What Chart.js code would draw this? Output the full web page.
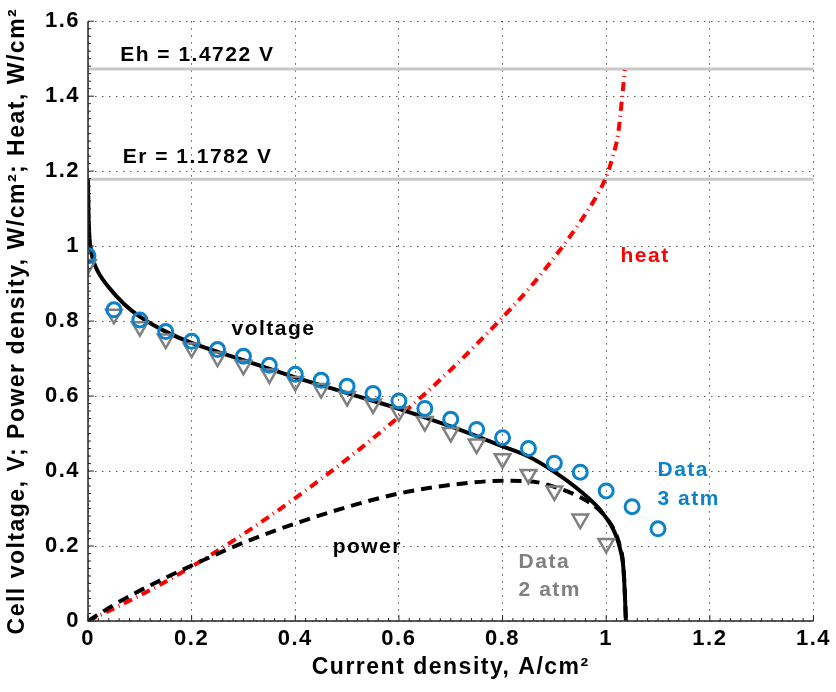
<!DOCTYPE html>
<html>
<head>
<meta charset="utf-8">
<script src="https://cdn.jsdelivr.net/npm/chart.js@4.4.1/dist/chart.umd.min.js"></script>
<style>
  html, body { margin: 0; padding: 0; background: #fff; }
  #wrap { width: 836px; height: 692px; }
</style>
</head>
<body>
<div id="wrap"><canvas id="chartFC"></canvas></div>
<script>
// ---- datos ----
const xTickLabels = ['0', '0.2', '0.4', '0.6', '0.8', '1', '1.2', '1.4'];
const yTickLabels = ['0', '0.2', '0.4', '0.6', '0.8', '1', '1.2', '1.4', '1.6'];

const Eh = 1.4722;
const Er = 1.1782;

// datos medidos, 3 atm (circulos)
const data3x = [0, 0.05, 0.1, 0.15, 0.2, 0.25, 0.3, 0.35, 0.4, 0.45, 0.5, 0.55, 0.6, 0.65, 0.7, 0.75, 0.8, 0.85, 0.9, 0.95, 1.0, 1.05, 1.1];
const data3y = [0.974, 0.830, 0.803, 0.772, 0.746, 0.724, 0.706, 0.682, 0.658, 0.642, 0.626, 0.607, 0.587, 0.567, 0.538, 0.511, 0.489, 0.460, 0.421, 0.397, 0.347, 0.305, 0.246];

// datos medidos, 2 atm (triangulos)
const data2x = [0, 0.05, 0.1, 0.15, 0.2, 0.25, 0.3, 0.35, 0.4, 0.45, 0.5, 0.55, 0.6, 0.65, 0.7, 0.75, 0.8, 0.85, 0.9, 0.95, 1.0];
const data2y = [0.951, 0.818, 0.785, 0.752, 0.728, 0.704, 0.682, 0.659, 0.639, 0.620, 0.599, 0.579, 0.558, 0.532, 0.503, 0.472, 0.433, 0.391, 0.347, 0.272, 0.207];

// modelo: voltaje
const voltX = [0, 0.001, 0.003, 0.006, 0.01, 0.02, 0.04, 0.07, 0.1, 0.15, 0.2, 0.3, 0.4, 0.5, 0.6, 0.7, 0.8, 0.85, 0.9, 0.95, 0.985, 1.0, 1.01, 1.02, 1.026, 1.033, 1.036, 1.038];
const voltY = [1.178, 1.09, 1.02, 0.988, 0.962, 0.93, 0.89, 0.845, 0.812, 0.772, 0.742, 0.696, 0.65, 0.608, 0.566, 0.519, 0.466, 0.439, 0.398, 0.347, 0.302, 0.275, 0.254, 0.224, 0.197, 0.144, 0.073, 0];

// modelo: potencia
const powX = [0, 0.05, 0.1, 0.2, 0.3, 0.4, 0.5, 0.6, 0.7, 0.8, 0.85, 0.9, 0.95, 0.985, 1.0, 1.01, 1.02, 1.026, 1.033, 1.036, 1.038];
const powY = [0, 0.043, 0.081, 0.148, 0.209, 0.26, 0.304, 0.34, 0.363, 0.374, 0.373, 0.358, 0.33, 0.298, 0.275, 0.256, 0.228, 0.202, 0.149, 0.076, 0];

// modelo: calor
const heatX = [0, 0.1, 0.2, 0.3, 0.4, 0.5, 0.6, 0.7, 0.8, 0.85, 0.9, 0.95, 0.98, 1.0, 1.013, 1.023, 1.031, 1.036];
const heatY = [0, 0.068, 0.145, 0.232, 0.328, 0.432, 0.545, 0.67, 0.81, 0.885, 0.97, 1.065, 1.13, 1.185, 1.24, 1.3, 1.4, 1.47];

const pts = (xs, ys) => xs.map((x, i) => ({ x: x, y: ys[i] }));

// ---- estilos ----
const FONT = '"Liberation Sans", Arial, Helvetica, sans-serif';
const BLUE = '#0b82c9';
const GRAY = '#808080';

// textos dentro del grafico (posicion en unidades de datos)
const notes = [
  { text: 'Eh = 1.4722 V', x: 0.062, y: 1.51, color: '#000', align: 'left' },
  { text: 'Er = 1.1782 V', x: 0.067, y: 1.237, color: '#000', align: 'left' },
  { text: 'voltage', x: 0.358, y: 0.779, color: '#000', align: 'center' },
  { text: 'heat', x: 1.075, y: 0.974, color: '#ff0000', align: 'center' },
  { text: 'power', x: 0.539, y: 0.197, color: '#000', align: 'center' },
  { text: 'Data', x: 0.831, y: 0.157, color: GRAY, align: 'left' },
  { text: '2 atm', x: 0.831, y: 0.082, color: GRAY, align: 'left' },
  { text: 'Data', x: 1.099, y: 0.401, color: BLUE, align: 'left' },
  { text: '3 atm', x: 1.099, y: 0.325, color: BLUE, align: 'left' }
];

// ejes tipo matlab: linea izquierda e inferior con ticks hacia adentro
const axesPlugin = {
  id: 'axesPlugin',
  beforeUpdate(chart) { chart.ctx.letterSpacing = '1.5px'; },
  beforeDraw(chart) { chart.ctx.letterSpacing = '1.5px'; },
  afterDraw(chart) {
    const { ctx, chartArea: a, scales: { x, y } } = chart;
    ctx.save();
    ctx.strokeStyle = '#262626';
    ctx.lineWidth = 1;
    ctx.beginPath();
    x.ticks.forEach((t, i) => {
      const px = x.getPixelForValue(t.value);
      ctx.moveTo(px, a.bottom); ctx.lineTo(px, a.bottom - 6);
      if (i < x.ticks.length - 1) {
        const step = (x.ticks[i + 1].value - t.value) / 10;
        for (let k = 1; k < 10; k++) {
          const m = x.getPixelForValue(t.value + k * step);
          ctx.moveTo(m, a.bottom); ctx.lineTo(m, a.bottom - 3);
        }
      }
    });
    y.ticks.forEach((t, i) => {
      const py = y.getPixelForValue(t.value);
      ctx.moveTo(a.left, py); ctx.lineTo(a.left + 6, py);
      if (i < y.ticks.length - 1) {
        const step = (y.ticks[i + 1].value - t.value) / 10;
        for (let k = 1; k < 10; k++) {
          const m = y.getPixelForValue(t.value + k * step);
          ctx.moveTo(a.left, m); ctx.lineTo(a.left + 3, m);
        }
      }
    });
    ctx.stroke();

    ctx.lineWidth = 1.5;
    ctx.beginPath();
    ctx.moveTo(a.left, a.top);
    ctx.lineTo(a.left, a.bottom);
    ctx.lineTo(a.right, a.bottom);
    ctx.stroke();

    ctx.font = 'bold 21px ' + FONT;
    ctx.textBaseline = 'middle';
    notes.forEach(n => {
      ctx.fillStyle = n.color;
      ctx.textAlign = n.align;
      ctx.fillText(n.text, x.getPixelForValue(n.x), y.getPixelForValue(n.y));
    });
    ctx.restore();
  }
};

const ctxFC = document.getElementById('chartFC');
new Chart(ctxFC, {
  type: 'scatter',
  data: {
    datasets: [
      {
        label: 'Data 3 atm',
        data: pts(data3x, data3y),
        pointStyle: 'circle',
        pointRadius: 7,
        pointBorderWidth: 3,
        borderColor: BLUE,
        backgroundColor: 'rgba(0,0,0,0)',
        order: 0
      },
      {
        label: 'Data 2 atm',
        data: pts(data2x, data2y),
        pointStyle: 'triangle',
        pointRotation: 180,
        pointRadius: 9,
        pointBorderWidth: 2.5,
        borderColor: GRAY,
        backgroundColor: 'rgba(0,0,0,0)',
        order: 1
      },
      {
        label: 'voltage',
        data: pts(voltX, voltY),
        showLine: true,
        pointRadius: 0,
        borderColor: '#000',
        borderWidth: 4,
        cubicInterpolationMode: 'monotone',
        order: 2
      },
      {
        label: 'power',
        data: pts(powX, powY),
        showLine: true,
        pointRadius: 0,
        borderColor: '#000',
        borderWidth: 4,
        borderDash: [11, 7],
        cubicInterpolationMode: 'monotone',
        order: 3
      },
      {
        label: 'heat',
        data: pts(heatX, heatY),
        showLine: true,
        pointRadius: 0,
        borderColor: '#ff0000',
        borderWidth: 4,
        borderDash: [9, 5, 1, 5],
        cubicInterpolationMode: 'monotone',
        order: 4
      },
      {
        label: 'Eh',
        data: [{ x: 0, y: Eh }, { x: 1.4, y: Eh }],
        showLine: true,
        pointRadius: 0,
        borderColor: '#c8c8c8',
        borderWidth: 3,
        order: 5
      },
      {
        label: 'Er',
        data: [{ x: 0, y: Er }, { x: 1.4, y: Er }],
        showLine: true,
        pointRadius: 0,
        borderColor: '#c8c8c8',
        borderWidth: 3,
        order: 5
      }
    ]
  },
  options: {
    responsive: true,
    maintainAspectRatio: false,
    animation: false,
    layout: { padding: { top: 16, right: 21, left: 0, bottom: 0 } },
    plugins: {
      legend: { display: false },
      tooltip: { enabled: false }
    },
    scales: {
      x: {
        type: 'linear',
        min: 0,
        max: 1.4,
        afterFit: s => { s.height = 71; },
        ticks: {
          stepSize: 0.2,
          padding: 5,
          color: '#000',
          font: { family: FONT, size: 22, weight: 'bold' },
          maxRotation: 0,
          callback: (v, i) => xTickLabels[i]
        },
        grid: { color: '#555', lineWidth: 1, drawTicks: false },
        border: { display: false, dash: [1.5, 5.5] },
        title: {
          display: true,
          text: 'Current density, A/cm²',
          color: '#000',
          font: { family: FONT, size: 23, weight: 'bold' },
          padding: { top: 2, bottom: 11 }
        }
      },
      y: {
        type: 'linear',
        min: 0,
        max: 1.6,
        afterFit: s => { s.width = 88; },
        ticks: {
          stepSize: 0.2,
          padding: 8,
          color: '#000',
          font: { family: FONT, size: 22, weight: 'bold' },
          callback: (v, i) => yTickLabels[i]
        },
        grid: { color: '#555', lineWidth: 1, drawTicks: false },
        border: { display: false, dash: [1.5, 5.5] },
        title: {
          display: true,
          text: 'Cell voltage, V; Power density, W/cm²; Heat, W/cm²',
          color: '#000',
          font: { family: FONT, size: 23, weight: 'bold' },
          padding: { top: 4, bottom: 2 }
        }
      }
    }
  },
  plugins: [axesPlugin]
});
</script>
</body>
</html>
